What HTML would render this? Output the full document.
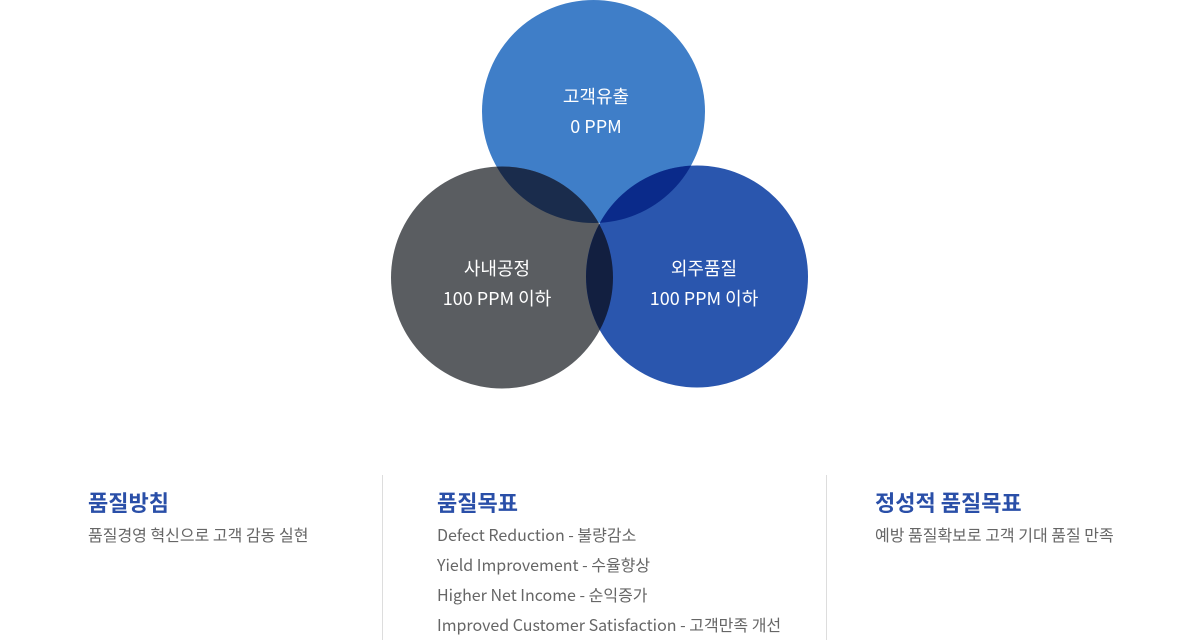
<!DOCTYPE html>
<html><head><meta charset="utf-8"><style>
body{margin:0;width:1200px;height:640px;background:#fff;overflow:hidden;position:relative;font-family:"Noto Sans CJK KR","Liberation Sans",sans-serif}
svg{position:absolute;left:0;top:0}
.col{position:absolute;top:487px}
.col h3{margin:0 0 2px;font-size:22px;color:#2a4fa8;font-weight:bold;line-height:30px}
.col p{margin:0;font-size:16px;color:#666;line-height:30px}
.div{position:absolute;top:475px;width:1px;height:165px;background:#ddd}
</style></head><body>
<svg width="1200" height="640">
<defs>
<clipPath id="cT"><circle cx="593.5" cy="111.5" r="111.5"/></clipPath>
<clipPath id="cL"><circle cx="502" cy="277.5" r="111"/></clipPath>
</defs>
<circle cx="593.5" cy="111.5" r="111.5" fill="#3f7ec8"/>
<circle cx="502" cy="277.5" r="111" fill="#5a5d61"/>
<circle cx="697" cy="276.5" r="111" fill="#2a56ae"/>
<circle cx="502" cy="277.5" r="111" fill="#1a2c4c" clip-path="url(#cT)"/>
<circle cx="697" cy="276.5" r="111" fill="#0a2a8a" clip-path="url(#cT)"/>
<circle cx="697" cy="276.5" r="111" fill="#121f40" clip-path="url(#cL)"/>
<g fill="#fff" font-size="18" text-anchor="middle" font-family="Noto Sans CJK KR, Liberation Sans, sans-serif">
<text x="596" y="103">고객유출</text><text x="596" y="133">0 PPM</text>
<text x="497" y="275">사내공정</text><text x="497" y="305">100 PPM 이하</text>
<text x="704" y="275">외주품질</text><text x="704" y="305">100 PPM 이하</text>
</g>
</svg>
<div class="div" style="left:382px"></div>
<div class="div" style="left:826px"></div>
<div class="col" style="left:88px"><h3>품질방침</h3><p>품질경영 혁신으로 고객 감동 실현</p></div>
<div class="col" style="left:437px"><h3>품질목표</h3><p>Defect Reduction - 불량감소</p><p>Yield Improvement - 수율향상</p><p>Higher Net Income - 순익증가</p><p>Improved Customer Satisfaction - 고객만족 개선</p></div>
<div class="col" style="left:875px"><h3>정성적 품질목표</h3><p>예방 품질확보로 고객 기대 품질 만족</p></div>
</body></html>
